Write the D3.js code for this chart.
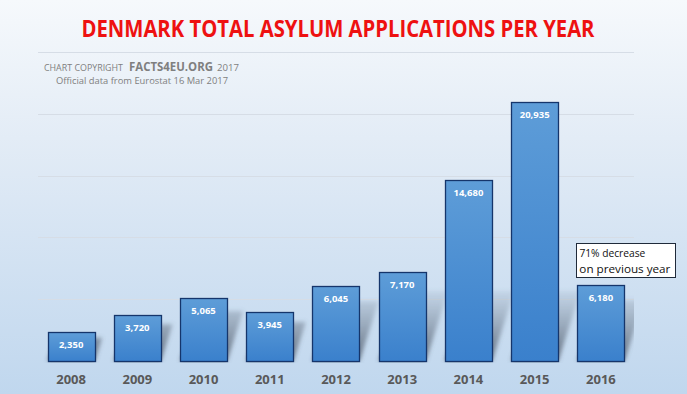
<!DOCTYPE html>
<html>
<head>
    <meta charset="utf-8">
    <title>Denmark total asylum applications per year</title>
    <style>
        body { margin: 0; }
        svg { display: block; }
        .grid line { stroke: #d6dde6; stroke-width: 1px; }
        .year { font-family: "Open Sans", sans-serif; font-weight: bold; font-size: 13px; fill: #595959; }
        .value { font-family: "Open Sans", sans-serif; font-weight: bold; font-size: 9.5px; fill: #ffffff; }
    </style>
    <script src="https://cdn.jsdelivr.net/npm/d3@7"></script>
</head>
<body>
    <svg width="687" height="394"></svg>
    <script>
        // data
        var years = ["2008", "2009", "2010", "2011", "2012", "2013", "2014", "2015", "2016"];
        var applications = [2350, 3720, 5065, 3945, 6045, 7170, 14680, 20935, 6180];
        var gridTicks = [5000, 10000, 15000, 20000, 25000];

        var svg = d3.select("svg");
        var width = +svg.attr("width"), height = +svg.attr("height");
        var plot = { left: 38, right: 634, top: 52, bottom: 361 };

        var x = d3.scaleBand().domain(years).range([plot.left, plot.right]).paddingInner(0.29).paddingOuter(0.145);
        var y = d3.scaleLinear().domain([0, 25000]).range([plot.bottom, plot.top]);

        var defs = svg.append("defs");

        var bg = defs.append("linearGradient").attr("id", "bg").attr("x1", 0).attr("y1", 0).attr("x2", 0).attr("y2", 1);
        bg.append("stop").attr("offset", "0%").attr("stop-color", "#f6f9fc");
        bg.append("stop").attr("offset", "35%").attr("stop-color", "#e3ecf6");
        bg.append("stop").attr("offset", "100%").attr("stop-color", "#c0d7ee");

        var barGrad = defs.append("linearGradient").attr("id", "barGrad").attr("x1", 0).attr("y1", 0).attr("x2", 0).attr("y2", 1);
        barGrad.append("stop").attr("offset", "0%").attr("stop-color", "#5e9dd8");
        barGrad.append("stop").attr("offset", "100%").attr("stop-color", "#3a80cc");

        // shadow fades out upwards, so only the foot of each shadow shows
        var shadowGrad = defs.append("linearGradient").attr("id", "shadowGrad")
            .attr("gradientUnits", "userSpaceOnUse")
            .attr("x1", 0).attr("y1", plot.bottom - 75).attr("x2", 0).attr("y2", plot.bottom);
        shadowGrad.append("stop").attr("offset", "0%").attr("stop-color", "#6f7f92").attr("stop-opacity", 0.05);
        shadowGrad.append("stop").attr("offset", "100%").attr("stop-color", "#4b5563").attr("stop-opacity", 0.8);

        defs.append("filter").attr("id", "blur").attr("x", "-20%").attr("y", "-20%").attr("width", "140%").attr("height", "140%")
            .append("feGaussianBlur").attr("stdDeviation", 2.2);

        defs.append("clipPath").attr("id", "plotClip")
            .append("rect").attr("x", plot.left).attr("y", plot.top).attr("width", plot.right - plot.left).attr("height", plot.bottom - plot.top + 2);

        svg.append("rect").attr("width", width).attr("height", height).attr("fill", "url(#bg)");

        // title
        svg.append("text")
            .attr("x", 338).attr("y", 37)
            .attr("text-anchor", "middle")
            .attr("textLength", 513).attr("lengthAdjust", "spacingAndGlyphs")
            .style("font-family", "'Open Sans', sans-serif").style("font-weight", "bold").style("font-size", "23px")
            .style("fill", "#ee1111")
            .text("DENMARK TOTAL ASYLUM APPLICATIONS PER YEAR");

        // gridlines
        svg.append("g").attr("class", "grid")
            .selectAll("line").data(gridTicks).enter().append("line")
            .attr("x1", plot.left).attr("x2", plot.right)
            .attr("y1", function (d) { return Math.round(y(d)) + 0.5; })
            .attr("y2", function (d) { return Math.round(y(d)) + 0.5; });

        // copyright note
        var note = svg.append("g").style("font-family", "'Open Sans', sans-serif").style("fill", "#7f7f7f");
        note.append("text").attr("x", 44).attr("y", 71).style("font-size", "9px")
            .attr("textLength", 79).attr("lengthAdjust", "spacingAndGlyphs").text("CHART COPYRIGHT");
        note.append("text").attr("x", 129).attr("y", 71).style("font-size", "11.5px").style("font-weight", "bold")
            .attr("textLength", 84).attr("lengthAdjust", "spacingAndGlyphs").text("FACTS4EU.ORG");
        note.append("text").attr("x", 217).attr("y", 71).style("font-size", "9.5px")
            .attr("textLength", 22).attr("lengthAdjust", "spacingAndGlyphs").text("2017");
        note.append("text").attr("x", 56).attr("y", 84).style("font-size", "9px")
            .attr("textLength", 172).attr("lengthAdjust", "spacingAndGlyphs")
            .text("Official data from Eurostat 16 Mar 2017");

        var data = years.map(function (yr, i) { return { year: yr, value: applications[i] }; });
        var skew = 0.32;

        // perspective shadows behind the bars
        svg.append("g").attr("clip-path", "url(#plotClip)")
            .selectAll("path").data(data).enter().append("path")
            .attr("fill", "url(#shadowGrad)")
            .attr("filter", "url(#blur)")
            .attr("d", function (d) {
                var x0 = x(d.year), x1 = x0 + x.bandwidth();
                var h = Math.min((plot.bottom - y(d.value)) * 0.8, 70);
                var dx = h * skew;
                return "M" + x0 + "," + plot.bottom + "L" + x1 + "," + plot.bottom +
                    "L" + (x1 + dx) + "," + (plot.bottom - h) + "L" + (x0 + dx) + "," + (plot.bottom - h) + "Z";
            });

        // bars
        svg.append("g").selectAll("rect").data(data).enter().append("rect")
            .attr("x", function (d) { return Math.round(x(d.year)) + 0.5; })
            .attr("y", function (d) { return Math.round(y(d.value)) + 0.5; })
            .attr("width", Math.round(x.bandwidth()))
            .attr("height", function (d) { return Math.round(plot.bottom - y(d.value)); })
            .attr("fill", "url(#barGrad)")
            .attr("stroke", "#15356b")
            .attr("stroke-width", 1.3);

        // value labels
        svg.append("g").selectAll("text").data(data).enter().append("text")
            .attr("class", "value")
            .attr("x", function (d) { return x(d.year) + x.bandwidth() / 2; })
            .attr("y", function (d) { return y(d.value) + 16; })
            .attr("text-anchor", "middle")
            .text(function (d) { return d3.format(",")(d.value); });

        // year labels
        svg.append("g").selectAll("text").data(years).enter().append("text")
            .attr("class", "year")
            .attr("x", function (d) { return x(d) + x.bandwidth() / 2; })
            .attr("y", 384)
            .attr("text-anchor", "middle")
            .text(function (d) { return d; });

        // callout on the last year
        var last = data[data.length - 1];
        var boxX = x(last.year) - 1, boxY = y(last.value) - 42;
        svg.append("rect")
            .attr("x", Math.round(boxX) + 0.5).attr("y", Math.round(boxY) + 0.5)
            .attr("width", 99).attr("height", 34)
            .attr("fill", "#ffffff").attr("stroke", "#1f2a3a").attr("stroke-width", 1);
        var callout = svg.append("text")
            .style("font-family", "'Open Sans', sans-serif").style("font-size", "11.5px").style("fill", "#111");
        callout.append("tspan").attr("x", boxX + 3).attr("y", boxY + 14).attr("textLength", 66).attr("lengthAdjust", "spacingAndGlyphs").text("71% decrease");
        callout.append("tspan").attr("x", boxX + 3).attr("y", boxY + 30).attr("textLength", 91).attr("lengthAdjust", "spacingAndGlyphs").text("on previous year");
    </script>
</body>
</html>
